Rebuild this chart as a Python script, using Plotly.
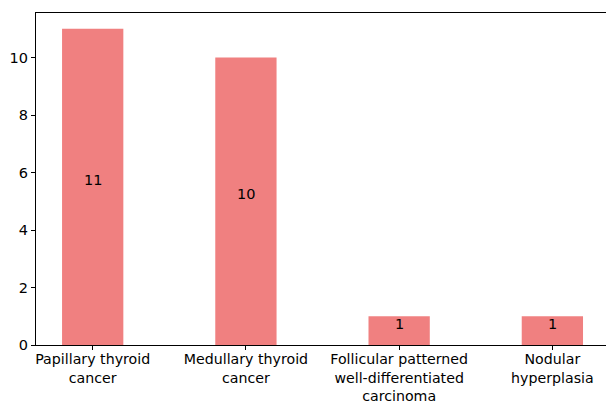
import plotly.graph_objects as go

categories = ["Papillary thyroid<br>cancer", "Medullary thyroid<br>cancer",
              "Follicular patterned<br>well-differentiated<br>carcinoma", "Nodular<br>hyperplasia"]
counts = [11, 10, 1, 1]
y_ticks = [0, 2, 4, 6, 8, 10]

font = dict(family="DejaVu Sans", size=14.5, color="#000000")
xfont = dict(family="DejaVu Sans", size=14.2, color="#000000")

fig = go.Figure(go.Bar(x=categories, y=counts, width=0.4, marker=dict(color="#F08080", line=dict(width=0))))

for c, v in zip(categories, counts):
    fig.add_annotation(x=c, y=v / 2, text=str(v), showarrow=False, yanchor="bottom",
                       yshift=-3, font=font)

fig.update_layout(
    width=606, height=403,
    margin=dict(l=36, r=0, t=13, b=58, autoexpand=False),
    plot_bgcolor="white", paper_bgcolor="white",
    showlegend=False, font=font,
)
fig.update_xaxes(range=[-0.37, 3.35], showline=True, linecolor="black", linewidth=1.2, mirror=True,
                 ticks="outside", ticklen=4, tickcolor="black", showgrid=False, tickfont=xfont,
                 automargin=False, ticklabelstandoff=-3)
fig.update_yaxes(range=[0, 11.55], tickvals=y_ticks, showline=True, linecolor="black", linewidth=1.2,
                 ticks="outside", ticklen=4, tickcolor="black", showgrid=False, zeroline=False, tickfont=font,
                 automargin=False)

fig.write_html("out.html", config={"displayModeBar": False},
               post_script="document.body.style.margin='0';document.body.style.overflow='hidden';")
